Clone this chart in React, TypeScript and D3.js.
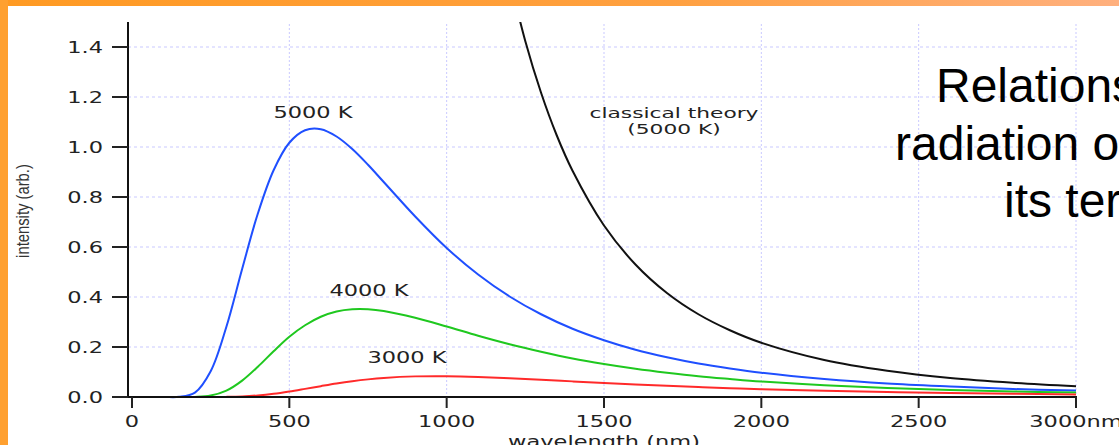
import React from "react";
import * as d3 from "d3";

// wavelength grid (nm) for the three Planck curves
const wavelengths = [0, 100, 150, 200, 250, 300, 350, 400, 450, 500, 550, 600, 650, 700, 750, 800, 900, 1000, 1100, 1200, 1300, 1400, 1500, 1600, 1700, 1800, 1900, 2000, 2200, 2400, 2600, 2800, 3000];

// intensity (arb.)
const t5000 = [0, 0, 0.0006, 0.0176, 0.103, 0.281, 0.512, 0.734, 0.907, 1.017, 1.067, 1.071, 1.042, 0.992, 0.929, 0.86, 0.722, 0.596, 0.49, 0.402, 0.331, 0.273, 0.227, 0.189, 0.159, 0.134, 0.114, 0.097, 0.072, 0.054, 0.042, 0.032, 0.026];
const t4000 = [0, 0, 0, 0.0005, 0.0058, 0.0255, 0.0655, 0.121, 0.183, 0.241, 0.287, 0.321, 0.342, 0.351, 0.351, 0.344, 0.317, 0.282, 0.245, 0.211, 0.181, 0.154, 0.132, 0.113, 0.097, 0.083, 0.072, 0.062, 0.047, 0.036, 0.028, 0.022, 0.018];
const t3000 = [0, 0, 0, 0, 0, 0.0005, 0.0021, 0.0061, 0.0127, 0.0219, 0.0325, 0.0434, 0.0539, 0.063, 0.0705, 0.0762, 0.0825, 0.0833, 0.0804, 0.0752, 0.0691, 0.0625, 0.0561, 0.0501, 0.0446, 0.0396, 0.0352, 0.0313, 0.0247, 0.0197, 0.0158, 0.0128, 0.0104];

// classical theory (5000 K), only the part below the top of the plot
const classicalWl = [1200, 1250, 1300, 1350, 1400, 1500, 1600, 1700, 1800, 1900, 2000, 2200, 2400, 2600, 2800, 3000];
const classicalVals = [1.676, 1.423, 1.217, 1.046, 0.905, 0.686, 0.53, 0.416, 0.331, 0.267, 0.217, 0.148, 0.105, 0.076, 0.057, 0.043];

const xTicks = [0, 500, 1000, 1500, 2000, 2500, 3000];
const xTickLabels = ["0", "500", "1000", "1500", "2000", "2500", "3000nm"];
const yTicks = [0, 0.2, 0.4, 0.6, 0.8, 1.0, 1.2, 1.4];
const yTickLabels = ["0.0", "0.2", "0.4", "0.6", "0.8", "1.0", "1.2", "1.4"];

const slideLines = ["Relations", "radiation o", "its ter"];

const W = 1119;
const H = 445;

const x = d3.scaleLinear().domain([0, 3000]).range([132, 1076]);
const y = d3.scaleLinear().domain([0, 1.5]).range([397, 22]);

const line = d3
  .line<[number, number]>()
  .x(d => x(d[0]))
  .y(d => y(d[1]))
  .curve(d3.curveCatmullRom.alpha(0.5));

const WIDE = 1.5; // the slide is stretched sideways

const Wide = ({ x, y, size, anchor, children }: any) => (
  <text
    transform={`translate(${x},${y}) scale(${WIDE},1)`}
    textAnchor={anchor || "middle"}
    fontFamily="DejaVu Sans"
    fontSize={size}
    fill="#222"
  >
    {children}
  </text>
);

const App = () => {
  const series = [
    { vals: t5000, color: "#1f4fff" },
    { vals: t4000, color: "#1fc81f" },
    { vals: t3000, color: "#ff2a2a" },
  ];
  const classical = classicalWl.map((w, i) => [w, classicalVals[i]] as [number, number]);

  return (
    <svg width={W} height={H} style={{ position: "absolute", left: 0, top: 0, display: "block", background: "#fff" }}>
      <defs>
        <linearGradient id="band" x1="0" x2="1" y1="0" y2="0">
          <stop offset="0" stopColor="#ff9a22" />
          <stop offset="0.6" stopColor="#ffa040" />
          <stop offset="1" stopColor="#ffb07e" />
        </linearGradient>
        <clipPath id="plot">
          <rect x={128} y={y(1.5)} width={960} height={y(0) - y(1.5) + 4} />
        </clipPath>
      </defs>

      {/* grid */}
      {yTicks.slice(1).map(t => (
        <line key={"gy" + t} x1={128} x2={x(3000)} y1={y(t)} y2={y(t)} stroke="#c9c9ff" strokeWidth={1} strokeDasharray="3,3" />
      ))}
      {xTicks.slice(1).map(t => (
        <line key={"gx" + t} x1={x(t)} x2={x(t)} y1={24} y2={y(0)} stroke="#c9c9ff" strokeWidth={1} strokeDasharray="2,2" />
      ))}

      {/* slide text behind the curves */}
      {slideLines.map((s, i) => (
        <text key={s} x={[936, 895, 1004][i]} y={102 + i * 57.5} fontFamily="Liberation Sans, Arial" fontSize={48} fill="#000">
          {s}
        </text>
      ))}

      {/* curves */}
      <g clipPath="url(#plot)">
        {series.map(s => (
          <path
            key={s.color}
            d={line(wavelengths.map((w, i) => [w, s.vals[i]] as [number, number])) || ""}
            fill="none"
            stroke={s.color}
            strokeWidth={2}
          />
        ))}
        <path d={line(classical) || ""} fill="none" stroke="#111" strokeWidth={2} />
      </g>

      {/* axes */}
      <line x1={128} x2={128} y1={22} y2={y(0) + 1} stroke="#111" strokeWidth={2} />
      <line x1={127} x2={x(3000) + 1} y1={y(0)} y2={y(0)} stroke="#111" strokeWidth={2} />
      {yTicks.map((t, i) => (
        <g key={"yt" + t}>
          <line x1={112} x2={128} y1={y(t)} y2={y(t)} stroke="#222" strokeWidth={2} />
          <Wide x={103} y={y(t) + 5.5} size={15} anchor="end">{yTickLabels[i]}</Wide>
        </g>
      ))}
      {xTicks.map((t, i) => (
        <g key={"xt" + t}>
          <line x1={x(t)} x2={x(t)} y1={y(0)} y2={y(0) + 11} stroke="#222" strokeWidth={2} />
          <Wide x={x(t)} y={427} size={15}>{xTickLabels[i]}</Wide>
        </g>
      ))}
      <Wide x={x(1500)} y={447} size={15}>wavelength (nm)</Wide>
      <text
        transform="translate(29,211) rotate(-90) scale(0.78,1)"
        textAnchor="middle"
        fontFamily="Liberation Sans, Arial"
        fontSize={19}
        fill="#333"
      >
        intensity (arb.)
      </text>

      {/* curve labels */}
      <Wide x={313} y={118} size={15}>5000 K</Wide>
      <Wide x={369} y={296} size={15}>4000 K</Wide>
      <Wide x={407} y={363} size={15}>3000 K</Wide>
      <Wide x={674} y={118} size={14.5}>classical theory</Wide>
      <Wide x={674} y={134} size={14.5}>(5000 K)</Wide>

      {/* orange slide frame */}
      <rect x={0} y={0} width={W} height={6} fill="url(#band)" />
      <rect x={0} y={0} width={8} height={H} fill="#ffa030" />
    </svg>
  );
};

export default App;
